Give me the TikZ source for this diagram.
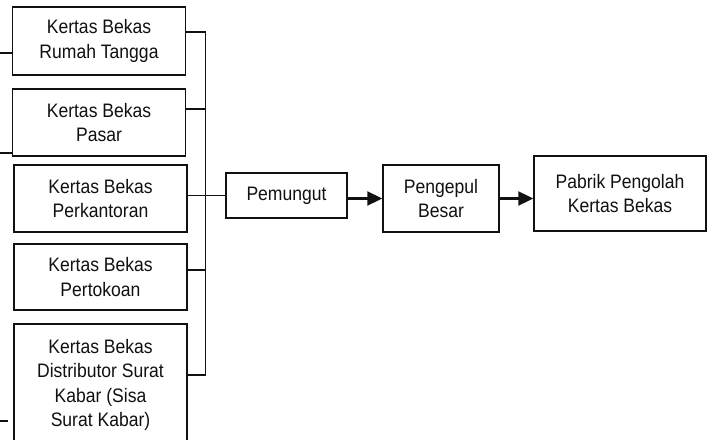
\documentclass[tikz,border=0pt]{standalone}
\usepackage{fontspec}
\setmainfont[FakeStretch=0.9]{Liberation Sans}
\usetikzlibrary{positioning,arrows.meta,calc}
\definecolor{lineDark}{HTML}{111111}

\begin{document}
\begin{tikzpicture}[x=1pt,y=-1pt,
          every node/.style={font=\fontsize{19.5pt}{24.5pt}\selectfont,
                             text=lineDark,align=center},
          srcbox/.style={draw=lineDark,line width=1.5pt,fill=white,
                         minimum width=173pt,inner sep=0pt},
          flowbox/.style={draw=lineDark,line width=1.5pt,fill=white,
                          inner sep=0pt},
          link/.style={draw=lineDark,line width=1.2pt},
          flow/.style={draw=lineDark,line width=2.3pt,
                       -{Triangle[length=15pt,width=14pt]}},
        ]
        \useasboundingbox (0,0) rectangle (714,439);
        \clip (0,0) rectangle (714,439);
        % sumber kertas bekas
        \node[srcbox,minimum height=68pt] (b1) at (99,41) {Kertas Bekas\\Rumah Tangga};
        \node[srcbox,minimum height=67pt] (b2) at (99,122.5) {Kertas Bekas\\Pasar};
        \node[srcbox,minimum height=67pt] (b3) at (100.5,198.5) {Kertas Bekas\\Perkantoran};
        \node[srcbox,minimum height=66pt] (b4) at (100.5,277) {Kertas Bekas\\Pertokoan};
        \node[srcbox,minimum height=122pt] (b5) at (100.5,385) {Kertas Bekas\\Distributor Surat\\Kabar (Sisa\\Surat Kabar)};
        % alur
        \node[flowbox,minimum width=121pt,minimum height=45pt] (pem) at (286.5,195.5) {Pemungut};
        \node[flowbox,minimum width=116pt,minimum height=67pt] (peng) at (441,198.5) {Pengepul\\Besar};
        \node[flowbox,minimum width=172pt,minimum height=75pt] (pabrik) at (620,193.5) {Pabrik Pengolah\\Kertas Bekas};
        % jalur pengumpul
        \coordinate (j1) at (205.5,32);
        \coordinate (j2) at (205.5,109);
        \coordinate (j4) at (205.5,270);
        \coordinate (j5) at (205.5,375);
        \draw[link] (j1 -| b1.east) -- (j1) -- (j5) -- (j5 -| b5.east);
        \draw[link] (j2 -| b2.east) -- (j2);
        \draw[link] (j4 -| b4.east) -- (j4);
        \draw[link] (pem.west -| b3.east) -- (pem.west);
        % garis masuk dari kiri
        \coordinate (s1) at (0,53);
        \coordinate (s2) at (0,153);
        \coordinate (s5) at (0,421);
        \draw[link] (s1) -- (s1 -| b1.west);
        \draw[link] (s2) -- (s2 -| b2.west);
        \draw[link] (s5) -- ++(8,0);
        % panah
        \draw[flow] (peng.west -| pem.east) -- (peng.west);
        \draw[flow] (peng.east) -- (peng.east -| pabrik.west);
      \end{tikzpicture}
\end{document}
